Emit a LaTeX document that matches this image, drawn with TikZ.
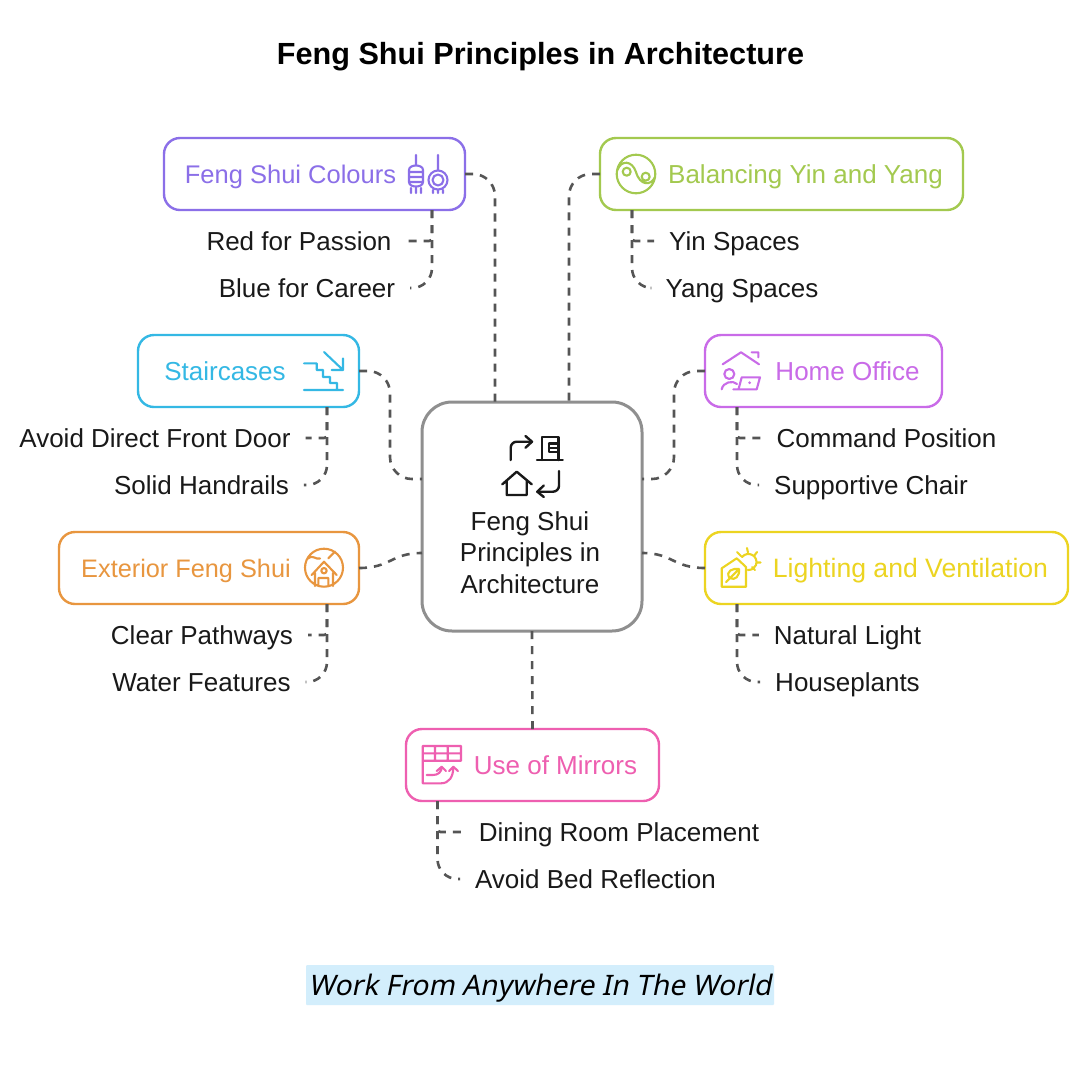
\documentclass[tikz,border=0pt]{standalone}
\usepackage{fontspec}
\usepackage{tikz}
\usetikzlibrary{calc}
\setmainfont{Liberation Sans}
\newfontfamily\notefont[FakeSlant=0.2]{Noto Sans}
\definecolor{cPurple}{HTML}{8B6FE8}
\definecolor{cGreen}{HTML}{A3C94F}
\definecolor{cCyan}{HTML}{34B8E4}
\definecolor{cViolet}{HTML}{C96BE8}
\definecolor{cOrange}{HTML}{E8963F}
\definecolor{cYellow}{HTML}{ECD421}
\definecolor{cPink}{HTML}{EE5FB0}
\definecolor{cLink}{HTML}{555555}
\definecolor{cHub}{HTML}{8F8F8F}
\definecolor{cNote}{HTML}{D3EEFC}

\begin{document}
\begin{tikzpicture}[x=1pt, y=-1pt, semithick]
\tikzstyle{topic}=[draw, fill=white, rounded corners=16, line width=2.4pt, outer sep=0pt, minimum height=72pt]
\tikzstyle{toptext}=[font=\fontsize{26}{31}\selectfont, inner sep=0pt, text height=18pt, text depth=0pt]
\tikzstyle{leaf}=[font=\fontsize{26}{31}\selectfont, text=black!90, text height=18pt, text depth=0pt, inner ysep=0pt, inner xsep=15pt, outer sep=0pt]
\tikzstyle{link}=[draw=cLink, line width=2.6pt, dash pattern=on 8pt off 7pt]
\tikzstyle{icon}=[line width=2.1pt, line cap=round, line join=round]
\path[fill=white, use as bounding box] (0,0) rectangle (1080,1080);

\node[font=\fontsize{30.6}{36}\selectfont\bfseries, inner sep=0pt, text height=21pt, text depth=0pt] (title) at (540.5,53.5) {Feng Shui Principles in Architecture};
\node[fill=cNote, rounded corners=1, minimum width=468pt, minimum height=40pt, inner sep=0pt, text height=24pt, text depth=4pt, font=\notefont\fontsize{28.2}{34}\selectfont] (note) at (540,985) {Work From Anywhere In The World};

\node[draw=cHub, fill=white, rounded corners=30, line width=3pt, outer sep=0pt, minimum width=220pt, minimum height=229pt] (hub) at (532,516.5) {};
\node[font=\fontsize{26}{31.5}\selectfont, align=center, text=black!90, inner sep=0pt] (hubtext) at (530,552.5) {Feng Shui\\Principles in\\Architecture};

\node[topic, draw=cPurple, minimum width=301pt] (colours)  at (314.5,174) {};
\node[topic, draw=cGreen,  minimum width=363pt] (yin)      at (781.5,174) {};
\node[topic, draw=cCyan,   minimum width=221pt] (stairs)   at (248.5,371) {};
\node[topic, draw=cViolet, minimum width=237pt] (office)   at (823.5,371) {};
\node[topic, draw=cOrange, minimum width=300pt] (exterior) at (209,568)   {};
\node[topic, draw=cYellow, minimum width=363pt] (lighting) at (886.5,568) {};
\node[topic, draw=cPink,   minimum width=253pt] (mirrors)  at (532.5,765) {};

\node[toptext, text=cPurple, font=\fontsize{25.5}{31}\selectfont] (colourstext)  at (290.5,174) {Feng Shui Colours};
\node[toptext, text=cGreen]  (yintext)      at (805.5,174) {Balancing Yin and Yang};
\node[toptext, text=cCyan]   (stairstext)   at (225,371)   {Staircases};
\node[toptext, text=cViolet] (officetext)   at (847.5,371) {Home Office};
\node[toptext, text=cOrange, font=\fontsize{25.3}{31}\selectfont] (exteriortext) at (186,568)   {Exterior Feng Shui};
\node[toptext, text=cYellow, font=\fontsize{26.6}{31}\selectfont] (lightingtext) at (910.5,568) {Lighting and Ventilation};
\node[toptext, text=cPink]   (mirrorstext)  at (555.5,765) {Use of Mirrors};

\node[leaf] (red)      at (299,241)   {Red for Passion};
\node[leaf] (blue)     at (307,288)   {Blue for Career};
\node[leaf] (yinsp)    at (734.5,241) {Yin Spaces};
\node[leaf] (yangsp)   at (742,288)   {Yang Spaces};
\node[leaf] (door)     at (155,438)   {Avoid Direct Front Door};
\node[leaf] (rails)    at (201.5,485) {Solid Handrails};
\node[leaf] (command)  at (886.5,438) {Command Position};
\node[leaf] (chair)    at (871,485)   {Supportive Chair};
\node[leaf] (paths)    at (202,635)   {Clear Pathways};
\node[leaf] (water)    at (201.5,682) {Water Features};
\node[leaf] (natural)  at (847.5,635) {Natural Light};
\node[leaf] (plants)   at (847.5,682) {Houseplants};
\node[leaf] (dining)   at (619,832)   {Dining Room Placement};
\node[leaf] (bed)      at (595.5,879) {Avoid Bed Reflection};

\draw[link, rounded corners=22] (colours.east) -| ([xshift=-37pt]hub.north);
\draw[link, rounded corners=22] (yin.west) -| ([xshift=37pt]hub.north);
\draw[link, rounded corners=22] (stairs.east) -| (390,425) |- ([yshift=37.5pt]hub.west);
\draw[link, rounded corners=22] (office.west) -| (674,425) |- ([yshift=37.5pt]hub.east);
\draw[link] (exterior.east) .. controls (391,568) and (391,553) .. ([yshift=-36.5pt]hub.west);
\draw[link] (lighting.west) .. controls (673,568) and (673,553) .. ([yshift=-36.5pt]hub.east);
\draw[link] (mirrors.north) -- (hub.south);

\draw[link, rounded corners=3]  ([xshift=117.5pt]colours.south) |- (red.east);
\draw[link, rounded corners=20] ([xshift=117.5pt]colours.south) |- (blue.east);
\draw[link, rounded corners=3]  ([xshift=-149.5pt]yin.south) |- (yinsp.west);
\draw[link, rounded corners=20] ([xshift=-149.5pt]yin.south) |- (yangsp.west);
\draw[link, rounded corners=3]  ([xshift=78.5pt]stairs.south) |- (door.east);
\draw[link, rounded corners=20] ([xshift=78.5pt]stairs.south) |- (rails.east);
\draw[link, rounded corners=3]  ([xshift=-86.5pt]office.south) |- (command.west);
\draw[link, rounded corners=20] ([xshift=-86.5pt]office.south) |- (chair.west);
\draw[link, rounded corners=3]  ([xshift=118pt]exterior.south) |- (paths.east);
\draw[link, rounded corners=20] ([xshift=118pt]exterior.south) |- (water.east);
\draw[link, rounded corners=3]  ([xshift=-149.5pt]lighting.south) |- (natural.west);
\draw[link, rounded corners=20] ([xshift=-149.5pt]lighting.south) |- (plants.west);
\draw[link, rounded corners=3]  ([xshift=-95pt]mirrors.south) |- (dining.west);
\draw[link, rounded corners=20] ([xshift=-95pt]mirrors.south) |- (bed.west);

\draw[icon, black!90, line width=2.4pt, rounded corners=6] (510.7,460) -- (510.7,441.7) -- (532,441.7);
\draw[icon, black!90, line width=2.4pt] (525.5,436) -- (532,441.7) -- (525.5,447.7);
\draw[icon, black!90, line width=2.4pt] (537,460) -- (562.7,460) (541.7,460) -- (541.7,436.7) -- (558.3,436.7) -- (558.3,460)
      (549,443.5) -- (558.3,443.5) (549,443.5) -- (549,452) -- (558.3,452) (549,447.7) -- (558.3,447.7);
\draw[icon, black!90, line width=2.4pt] (502.3,484.3) -- (516.7,471.7) -- (531.7,484.3) (506.7,481) -- (506.7,495) -- (526.7,495) -- (526.7,481);
\draw[icon, black!90, line width=2.4pt, rounded corners=6] (559,471) -- (559,491.7) -- (537.3,491.7);
\draw[icon, black!90, line width=2.4pt] (543.8,485.5) -- (537.3,491.7) -- (543.8,497);

\draw[icon, cPurple] (416,155) -- (416,165) (409,170) .. controls (409,164) and (423,164) .. (423,170) -- (423,182) .. controls (423,188) and (409,188) .. (409,182) -- cycle
      (409,172) -- (423,172) (409,177) -- (423,177) (409,182) -- (423,182) (411,188) -- (411,193) (416,188) -- (416,193) (421,188) -- (421,193);
\draw[icon, cPurple] (438,155) -- (438,170) (438,180) circle (9.5) (438,180) circle (5.5) (433,190) -- (433,193) (438,190) -- (438,193) (443,190) -- (443,193);

\draw[icon, cGreen] (636,174) circle (19.3) (626.7,171.7) circle (4) (645.7,176.7) circle (4)
      (617.5,170) .. controls (621,160) and (632,160) .. (636,172) .. controls (640,186) and (651,186) .. (655,177);

\draw[icon, cCyan] (324,352) -- (343,370) (343,358.3) -- (343,370) -- (331.7,370)
      (304,363.3) -- (316.7,363.3) -- (316.7,370) -- (323,370) -- (323,377) -- (330,377) -- (330,383) -- (337,383) -- (337,389) (304,390) -- (343,390);

\draw[icon, cViolet] (722.7,364.3) -- (741,352.3) -- (759,364.3) (751.7,352.3) -- (758.3,352.3) -- (758.3,357.3)
      (729.3,374) circle (5) (721.7,389.3) .. controls (723,382) and (733,380) .. (737,384)
      (741.7,377.3) -- (760,377.3) -- (756.7,389.3) -- (733.3,389.3) (741.7,377.3) -- (738.5,389.3);
\fill[cViolet] (749.7,382.7) circle (1.5);

\draw[icon, cOrange] (324,567.7) circle (19) (311.7,575) -- (324,561.7) -- (336.7,575) (315,573) -- (315,586) (333,573) -- (333,586)
      (318.3,586) -- (318.3,578) -- (328.3,578) -- (328.3,586) (324,570.7) circle (2.7) (308,558.5) .. controls (312,554) and (316,560) .. (320,558.5) (328.3,558.3) -- (335,551.7);

\draw[icon, cYellow] (746,567) -- (736.7,558.3) -- (721.7,568.3) -- (721.7,586.7) -- (746,586.7) -- cycle
      (726,582) -- (739,569) (729.5,578) .. controls (725,571) and (733,568) .. (739,569) .. controls (740,576) and (735,581) .. (729.5,578)
      (742,557) .. controls (748,550) and (759,556) .. (756,565) .. controls (755,568) and (752,570) .. (748,570)
      (747,548) -- (748,552.5) (737,552) -- (741,556) (757,552) -- (754,556) (760.5,562.5) -- (756.5,562.5) (755,570) -- (752,567);

\draw[icon, cPink] (422.7,746) rectangle (461,760.7) (435,746) -- (435,760.7) (447.7,746) -- (447.7,760.7) (422.7,753.3) -- (461,753.3)
      (422.7,760.7) -- (422.7,783.3) -- (441,783.3) .. controls (449,783.3) and (453.3,777) .. (453.3,767)
      (426.7,775) -- (433,775) .. controls (438,775) and (441.7,772) .. (441.7,767)
      (436.7,771) -- (441.7,766.7) -- (446,771) (449,771) -- (453.3,766.7) -- (458,771);
\end{tikzpicture}
\end{document}
